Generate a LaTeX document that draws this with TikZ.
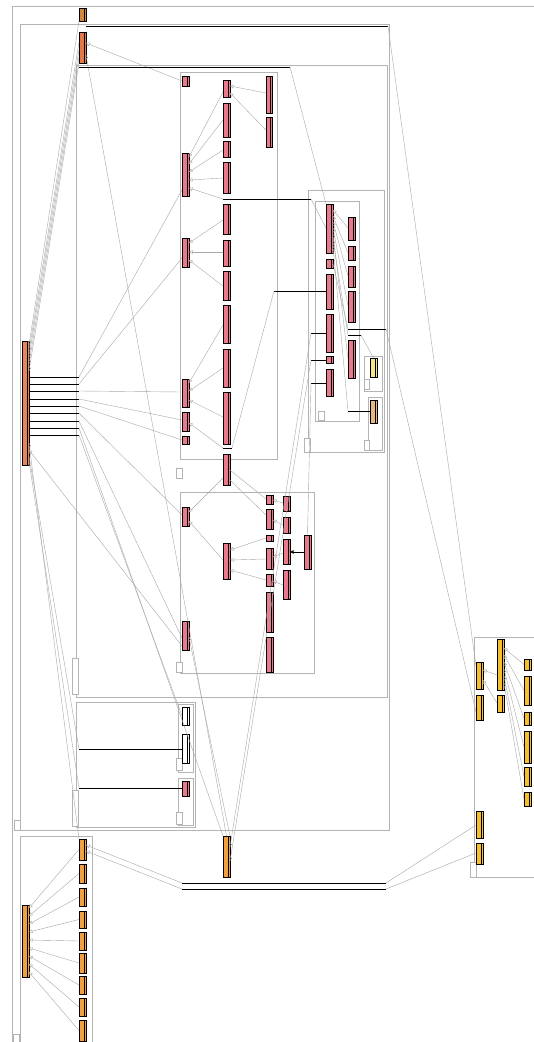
\documentclass[tikz,border=0pt]{standalone}
\usetikzlibrary{arrows.meta,calc}
\definecolor{pkggray}{HTML}{B4B4B4}
\definecolor{lgray}{HTML}{A8A8A8}
\definecolor{mainc}{HTML}{E8845A}
\definecolor{topa}{HTML}{D08840}
\definecolor{topb}{HTML}{E07848}
\definecolor{pinkc}{HTML}{E87A8C}
\definecolor{orangec}{HTML}{F0A040}
\definecolor{goldc}{HTML}{F5C030}
\definecolor{yellowc}{HTML}{F0E68C}
\definecolor{tanc}{HTML}{E8B880}
\tikzset{
  cls/.style={draw=black, line width=0.9pt, inner sep=0pt, outer sep=0pt, rectangle,
    path picture={\draw[black,line width=0.6pt] ([xshift=-1.8pt]path picture bounding box.north east) -- ([xshift=-1.8pt]path picture bounding box.south east);}},
  pkg/.style={draw=pkggray, line width=0.6pt},
  tabbox/.style={draw=pkggray, fill=white, line width=0.5pt},
  gln/.style={draw=lgray, line width=0.4pt},
  gen/.style={gln, -{Triangle[open, length=3.5pt, width=3.5pt]}},
  asc/.style={draw=black, line width=0.8pt},
}
\newcommand{\cls}[6]{\node[cls, fill=#6, minimum width={(#4-#2)*1pt}, minimum height={(#5-#3)*1pt}] (#1) at ({(#2+#4)/2},{(#3+#5)/2}) {};}
\begin{document}
\begin{tikzpicture}[x=1pt,y=-1pt]
\useasboundingbox[fill=white] (0,0) rectangle (534,1042);
% packages
\draw[pkg] (534,6) -- (12,6) -- (12,1042);
\draw[pkg] (20,24) rectangle (389,830);
\draw[pkg] (76,65) rectangle (387,697);
\draw[pkg] (180,72) rectangle (277,459);
\draw[pkg] (180,492) rectangle (314,673);
\draw[pkg] (308,190) rectangle (384,452);
\draw[pkg] (315,201) rectangle (359,421);
\draw[pkg] (364,356) rectangle (382,391);
\draw[pkg] (368,397) rectangle (382,450);
\draw[pkg] (76,702) rectangle (195,827);
\draw[pkg] (178,704) rectangle (193,772);
\draw[pkg] (178,778) rectangle (193,825);
\draw[pkg] (20,836) -- (20,1042);
\draw[pkg] (20,836) -- (92,836) -- (92,1042);
\draw[pkg] (534,637) -- (474,637) -- (474,877) -- (534,877);
% package tabs
\draw[tabbox] (13,1034) rectangle (19,1042);
\draw[tabbox] (14,820) rectangle (20,830);
\draw[tabbox] (72,658) rectangle (78,694);
\draw[tabbox] (176,468) rectangle (182,478);
\draw[tabbox] (176,662) rectangle (182,672);
\draw[tabbox] (304,438) rectangle (310,452);
\draw[tabbox] (318,411) rectangle (324,420);
\draw[tabbox] (364,379) rectangle (369,389);
\draw[tabbox] (364,440) rectangle (369,450);
\draw[tabbox] (72,790) rectangle (78,826);
\draw[tabbox] (176,758) rectangle (182,770);
\draw[tabbox] (176,812) rectangle (182,824);
\draw[tabbox] (470,862) rectangle (476,877);
% classes
\cls{T1}{79}{8}{86}{21}{topa}
\cls{T2}{79}{32}{86}{63}{topb}
\cls{M0}{22}{341}{29}{465}{mainc}
\cls{c1}{182}{76}{189}{86}{pinkc}
\cls{c2}{182}{153}{189}{196}{pinkc}
\cls{c3}{182}{238}{189}{267}{pinkc}
\cls{c4}{182}{379}{189}{407}{pinkc}
\cls{c5}{182}{412}{189}{431}{pinkc}
\cls{c6}{182}{436}{189}{444}{pinkc}
\cls{Ca1}{223}{80}{230}{97}{pinkc}
\cls{Ca2}{223}{103}{230}{137}{pinkc}
\cls{Ca3}{223}{141}{230}{157}{pinkc}
\cls{Ca4}{223}{162}{230}{193}{pinkc}
\cls{Cb1}{223}{204}{230}{234}{pinkc}
\cls{Cb2}{223}{240}{230}{266}{pinkc}
\cls{Cb3}{223}{271}{230}{300}{pinkc}
\cls{Cb4}{223}{305}{230}{343}{pinkc}
\cls{Cb5}{223}{349}{230}{387}{pinkc}
\cls{Cb6}{223}{392}{230}{444}{pinkc}
\cls{Cz}{223}{454}{230}{485}{pinkc}
\cls{Cc1}{266}{76}{272}{113}{pinkc}
\cls{Cc2}{266}{117}{272}{147}{pinkc}
\cls{e1}{326}{204}{333}{253}{pinkc}
\cls{e2}{326}{259}{333}{268}{pinkc}
\cls{e3}{326}{274}{333}{309}{pinkc}
\cls{e4}{326}{314}{333}{352}{pinkc}
\cls{e5}{326}{356}{333}{363}{pinkc}
\cls{e6}{326}{369}{333}{396}{pinkc}
\cls{Er1}{348}{217}{355}{240}{pinkc}
\cls{Er2}{348}{246}{355}{260}{pinkc}
\cls{Er3}{348}{266}{355}{287}{pinkc}
\cls{Er4}{348}{291}{355}{322}{pinkc}
\cls{Er5}{348}{340}{355}{378}{pinkc}
\cls{G1}{370}{358}{377}{377}{yellowc}
\cls{H1}{370}{400}{377}{423}{tanc}
\cls{d1}{182}{507}{189}{526}{pinkc}
\cls{d2}{182}{621}{189}{650}{pinkc}
\cls{d3}{223}{543}{230}{579}{pinkc}
\cls{Dc1}{266}{495}{273}{504}{pinkc}
\cls{Dc2}{266}{509}{273}{529}{pinkc}
\cls{Dc3}{266}{535}{273}{541}{pinkc}
\cls{Dc4}{266}{548}{273}{569}{pinkc}
\cls{Dc5}{266}{574}{273}{586}{pinkc}
\cls{Dc6}{266}{592}{273}{632}{pinkc}
\cls{Dc7}{266}{637}{273}{672}{pinkc}
\cls{Dd1}{283}{496}{290}{511}{pinkc}
\cls{Dd2}{283}{517}{290}{533}{pinkc}
\cls{Dd3}{283}{539}{290}{564}{pinkc}
\cls{Dd4}{283}{570}{290}{599}{pinkc}
\cls{Dx}{304}{535}{311}{569}{pinkc}
\cls{J1}{182}{707}{189}{725}{white}
\cls{J2}{182}{734}{189}{763}{white}
\cls{K1}{182}{781}{189}{796}{pinkc}
\cls{B0}{223}{836}{230}{877}{orangec}
\cls{L0}{22}{905}{29}{977}{orangec}
\cls{Lc1}{79}{839}{86}{860}{orangec}
\cls{Lc2}{79}{864}{86}{883}{orangec}
\cls{Lc3}{79}{888}{86}{906}{orangec}
\cls{Lc4}{79}{911}{86}{928}{orangec}
\cls{Lc5}{79}{932}{86}{950}{orangec}
\cls{Lc6}{79}{953}{86}{973}{orangec}
\cls{Lc7}{79}{976}{86}{994}{orangec}
\cls{Lc8}{79}{998}{86}{1016}{orangec}
\cls{Lc9}{79}{1020}{86}{1041}{orangec}
\cls{Mm1}{476}{662}{483}{689}{goldc}
\cls{Mm2}{476}{695}{483}{720}{goldc}
\cls{Mb}{497}{639}{504}{690}{goldc}
\cls{Mc}{497}{695}{504}{712}{goldc}
\cls{Mr1}{524}{659}{531}{670}{goldc}
\cls{Mr2}{524}{676}{531}{705}{goldc}
\cls{Mr3}{524}{712}{531}{725}{goldc}
\cls{Mr4}{524}{731}{531}{763}{goldc}
\cls{Mr5}{524}{767}{531}{786}{goldc}
\cls{Mr6}{524}{792}{531}{806}{goldc}
\cls{Mm3}{476}{811}{483}{838}{goldc}
\cls{Mm4}{476}{843}{483}{864}{goldc}
% free ends
\coordinate (ta) at (388,26);
\coordinate (tc) at (290,67);
\foreach \i/\y in {1/377,2/384,3/391,4/399,5/406,6/413,7/421,8/428,9/435} {\coordinate (s\i) at (79,\y);}
\coordinate (jj) at (79,749);
\coordinate (kk) at (79,788);
\coordinate (cy) at (223,199);
\coordinate (cz) at (311,199);
\coordinate (p1) at (274,291);
\coordinate (p2) at (232,448);
\coordinate (p3) at (223,448);
\coordinate (q1) at (311,333);
\coordinate (q2) at (311,360);
\coordinate (q3) at (311,383);
\coordinate (r1) at (348,411);
\coordinate (r2) at (348,329);
\coordinate (r3) at (386,329);
\coordinate (r4) at (348,335);
\coordinate (r5) at (361,335);
\coordinate (u1) at (182,883);
\coordinate (u2) at (386,883);
\coordinate (u3) at (182,889);
\coordinate (u4) at (386,889);
% top classes to main
\draw[gen] (T1.south west) -- (M0.east |- 0,345);
\draw[gen] (T2.west |- 0,42) -- (M0.east |- 0,351);
\draw[gen] (T2.west |- 0,50) -- (M0.east |- 0,357);
\draw[gen] (T2.west |- 0,57) -- (M0.east |- 0,364);
\draw[gen] (T2.south west) -- (M0.east |- 0,371);
\draw[gen] (c1.west |- 0,81) -- (T2.east |- 0,43);
\draw[gen] (B0.north) -- (T2.east |- 0,55);
\draw[asc] (T1.east |- 0,26) -- (ta);
\draw[gln] (ta) -- (Mm1.west |- 0,666);
\draw[asc] (T2.west |- 0,67) -- (tc);
\draw[gln] (tc) -- (e1.north west);
% main stubs
\foreach \i/\y in {1/377,2/384,3/391,4/399,5/406,6/413,7/421,8/428,9/435} {\draw[asc] (M0.east |- 0,\y) -- (s\i);}
\draw[gln] (s1) -- (c2.west |- 0,190);
\draw[gln] (s2) -- (c3.west |- 0,258);
\draw[gln] (s3) -- (c4.west |- 0,392);
\draw[gln] (s4) -- (c5.west |- 0,420);
\draw[gln] (s5) -- (c6.west |- 0,440);
\draw[gln] (s6) -- (d1.west |- 0,515);
\draw[gln] (s7) -- (d2.west |- 0,638);
\draw[gln] (s8) -- (B0.north west);
\draw[gln] (s9) -- (J1.west |- 0,716);
% main bottom
\draw[gen] (Lc1.north west) -- (M0.east |- 0,443);
\draw[gen] (d2.west |- 0,646) -- (M0.east |- 0,450);
\draw[gln] (M0.east |- 0,456) -- (jj);
\draw[gln] (M0.east |- 0,461) -- (kk);
\draw[asc] (jj) -- (J2.west |- 0,749);
\draw[asc] (kk) -- (K1.west |- 0,788);
% package C
\draw[gen] (Cc1.west |- 0,93) -- (Ca1.east |- 0,86);
\draw[gen] (Cc2.west |- 0,130) -- (Ca1.east |- 0,93);
\draw[gen] (Ca1.west |- 0,92) -- (c2.east |- 0,157);
\draw[gen] (Ca2.west |- 0,120) -- (c2.east |- 0,164);
\draw[gen] (Ca3.west |- 0,150) -- (c2.east |- 0,172);
\draw[gen] (Ca4.west |- 0,178) -- (c2.east |- 0,180);
\draw[gen] (cy) -- (c2.east |- 0,188);
\draw[asc] (cy) -- (cz);
\draw[gln] (cz) -- (e1.west |- 0,228);
\draw[gen] (Cb1.west |- 0,220) -- (c3.east |- 0,243);
\draw[gen] (Cb2.west |- 0,252) -- (c3.east |- 0,252);
\draw[gen] (Cb3.west |- 0,286) -- (c3.east |- 0,260);
\draw[gen] (Cb4.west |- 0,325) -- (c4.east |- 0,383);
\draw[gen] (Cb5.west |- 0,368) -- (c4.east |- 0,391);
\draw[gen] (Cb6.west |- 0,417) -- (c4.east |- 0,400);
\draw[asc] (e3.west |- 0,291) -- (p1);
\draw[gln] (p1) -- (p2);
\draw[asc] (p2) -- (p3);
\draw[gen] (p3) -- (c5.east |- 0,423);
% package E
\draw[asc] (e4.west |- 0,333) -- (q1);
\draw[asc] (e5.west |- 0,360) -- (q2);
\draw[asc] (e6.west |- 0,383) -- (q3);
\draw[gen] (q1) -- (B0.east |- 0,847);
\draw[gen] (q2) -- (B0.east |- 0,861);
\draw[gln] (q3) -- (Dx.north);
\draw[gen] (Er1.west |- 0,228) -- (e1.east |- 0,210);
\draw[gen] (Er2.west |- 0,253) -- (e1.east |- 0,216);
\draw[gen] (Er3.west |- 0,276) -- (e1.east |- 0,222);
\draw[gen] (Er4.west |- 0,306) -- (e1.east |- 0,228);
\draw[gen] (Er5.west |- 0,359) -- (e1.east |- 0,234);
\draw[asc] (H1.west |- 0,411) -- (r1);
\draw[gen] (r1) -- (e1.east |- 0,246);
\draw[gln] (e2.east) -- (r2);
\draw[asc] (r2) -- (r3);
\draw[gln] (r3) -- (Mm2.west |- 0,712);
\draw[gen] (r4) -- (e1.east |- 0,240);
\draw[asc] (r4) -- (r5);
\draw[gln] (r5) -- (G1.north);
% package D
\draw[gen] (Cz.west |- 0,478) -- (d1.east |- 0,512);
\draw[gen] (d3.west |- 0,560) -- (d1.east |- 0,521);
\draw[gln] (Cz.east |- 0,470) -- (Dc1.west |- 0,499);
\draw[gln] (Cz.east |- 0,480) -- (Dc2.west |- 0,515);
\draw[gen] (Dc3.west |- 0,538) -- (d3.east |- 0,550);
\draw[gen] (Dc4.west |- 0,559) -- (d3.east |- 0,560);
\draw[gen] (Dc5.west |- 0,580) -- (d3.east |- 0,570);
\draw[gen] (Dd1.west |- 0,503) -- (Dc1.east |- 0,500);
\draw[gen] (Dd2.west |- 0,525) -- (Dc2.east |- 0,520);
\draw[gen] (Dd3.west |- 0,553) -- (Dc4.east |- 0,557);
\draw[gen] (Dd4.west |- 0,585) -- (Dc5.east |- 0,581);
\draw[asc, -{Triangle[open, length=3.5pt, width=3.5pt]}] (Dx.west |- 0,552) -- (Dd3.east |- 0,552);
\draw[gen] (B0.north east) -- (d2.east |- 0,637);
% package L
\foreach \i/\y in {1/908,2/916,3/924,4/932,5/940,6/948,7/956,8/964,9/972} {\draw[gen] (Lc\i.west) -- (L0.east |- 0,\y);}
% bottom double line
\draw[gen] (u1) -- (Lc1.east |- 0,845);
\draw[gen] (u3) -- (Lc1.east |- 0,851);
\draw[asc] (u1) -- (u2);
\draw[asc] (u3) -- (u4);
\draw[gln] (u2) -- (Mm3.west |- 0,825);
\draw[gln] (u4) -- (Mm4.west |- 0,853);
% package M
\draw[gen] (Mb.west |- 0,675) -- (Mm1.east |- 0,670);
\draw[gen] (Mc.west |- 0,703) -- (Mm1.east |- 0,680);
\foreach \i/\y in {1/648,2/655,3/662,4/669,5/676,6/683} {\draw[gen] (Mr\i.west) -- (Mb.east |- 0,\y);}
\end{tikzpicture}
\end{document}
